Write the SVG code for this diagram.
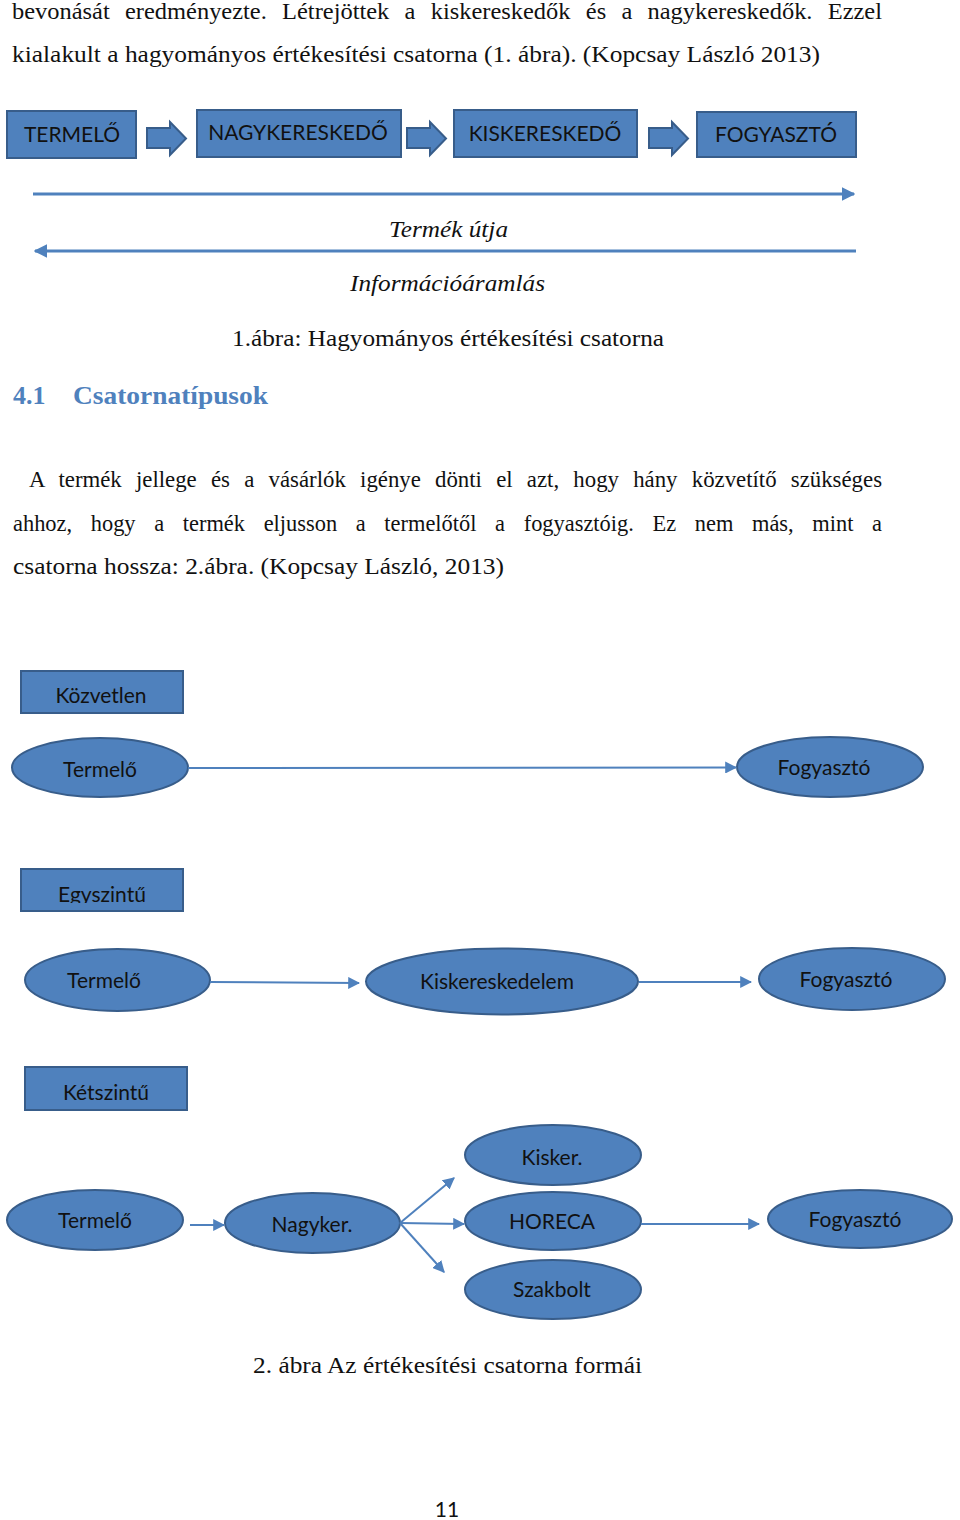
<svg xmlns="http://www.w3.org/2000/svg" width="960" height="1520" viewBox="0 0 960 1520">
<style>
.body{font-family:"Liberation Serif","Times New Roman",serif;font-size:24px;fill:#111}
.just{word-spacing:9px}
.it{font-style:italic}
.h{font-family:"Liberation Serif",serif;font-size:26px;font-weight:bold;fill:#4f81bd}
.box{fill:#4f81bd;stroke:#385d8a;stroke-width:2}
.lbl{font-family:Lato,"Open Sans",sans-serif;font-size:21px;fill:#111;text-anchor:middle}
.ln{stroke:#4f81bd;stroke-width:2;fill:none}
.ln3{stroke:#4f81bd;stroke-width:3;fill:none}
.pg{font-family:Lato,sans-serif;font-size:21px;fill:#111;text-anchor:middle}
</style>
<defs>
<marker id="ah" viewBox="0 0 10 10" refX="9" refY="5" markerWidth="6" markerHeight="6" orient="auto" markerUnits="strokeWidth">
<path d="M0,0 L10,5 L0,10 Z" fill="#4f81bd"/>
</marker>
<marker id="ah2" viewBox="0 0 10 10" refX="9" refY="5" markerWidth="4.5" markerHeight="4.5" orient="auto" markerUnits="strokeWidth">
<path d="M0,0 L10,5 L0,10 Z" fill="#4f81bd"/>
</marker>
<path id="blk" d="M0,128 H23 V122 L39,138.5 L23,155 V148 H0 Z"/>
<clipPath id="clipEgy"><rect x="21" y="869" width="162" height="34"/></clipPath>
</defs>

<!-- body text -->
<text class="body just" x="12" y="19" textLength="870" lengthAdjust="spacingAndGlyphs">bevonását eredményezte. Létrejöttek a kiskereskedők és a nagykereskedők. Ezzel</text>
<text class="body" x="12" y="62" textLength="808" lengthAdjust="spacingAndGlyphs">kialakult a hagyományos értékesítési csatorna (1. ábra). (Kopcsay László 2013)</text>

<!-- Figure 1 -->
<g id="n-termelo1"><rect class="box" x="7" y="111" width="129" height="47"/><text class="lbl" x="72" y="142">TERMELŐ</text></g>
<g id="n-nagyker1"><rect class="box" x="197" y="110" width="204" height="47"/><text class="lbl" x="298" y="140">NAGYKERESKEDŐ</text></g>
<g id="n-kisker1"><rect class="box" x="454" y="110" width="183" height="47"/><text class="lbl" x="545" y="141">KISKERESKEDŐ</text></g>
<g id="n-fogy1"><rect class="box" x="697" y="112" width="159" height="45"/><text class="lbl" x="776" y="142">FOGYASZTÓ</text></g>

<g id="connectors1">
<use href="#blk" class="box" x="147"/>
<use href="#blk" class="box" x="407"/>
<use href="#blk" class="box" x="649"/>
<line class="ln3" x1="33" y1="194" x2="854" y2="194" marker-end="url(#ah2)"/>
<line class="ln3" x1="856" y1="251" x2="35" y2="251" marker-end="url(#ah2)"/>
</g>
<text class="body it" x="389" y="237" textLength="119" lengthAdjust="spacingAndGlyphs">Termék útja</text>
<text class="body it" x="350" y="291" textLength="195" lengthAdjust="spacingAndGlyphs">Információáramlás</text>
<text class="body" x="232" y="346" textLength="432" lengthAdjust="spacingAndGlyphs">1.ábra: Hagyományos értékesítési csatorna</text>

<text class="h" x="13" y="404">4.1</text>
<text class="h" x="73" y="404" textLength="195" lengthAdjust="spacingAndGlyphs">Csatornatípusok</text>

<text class="body just" x="29" y="487" textLength="853" lengthAdjust="spacingAndGlyphs">A termék jellege és a vásárlók igénye dönti el azt, hogy hány közvetítő szükséges</text>
<text class="body just" x="13" y="531" textLength="869" lengthAdjust="spacingAndGlyphs" style="word-spacing:14px">ahhoz, hogy a termék eljusson a termelőtől a fogyasztóig. Ez nem más, mint a</text>
<text class="body" x="13" y="574" textLength="491" lengthAdjust="spacingAndGlyphs">csatorna hossza: 2.ábra. (Kopcsay László, 2013)</text>

<!-- Figure 2 -->
<g id="n-kozvetlen"><rect class="box" x="21" y="671" width="162" height="42"/><text class="lbl" x="101" y="703">Közvetlen</text></g>
<g id="n-termelo2"><ellipse class="box" cx="100" cy="767.5" rx="88" ry="29.5"/><text class="lbl" x="100" y="777">Termelő</text></g>
<g id="n-fogy2"><ellipse class="box" cx="830" cy="767" rx="93" ry="30"/><text class="lbl" x="824" y="775">Fogyasztó</text></g>

<g id="n-egyszintu"><rect class="box" x="21" y="869" width="162" height="42"/><text class="lbl" x="102" y="902" clip-path="url(#clipEgy)">Egyszintű</text></g>
<g id="n-termelo3"><ellipse class="box" cx="117.5" cy="980" rx="92.5" ry="31"/><text class="lbl" x="104" y="988">Termelő</text></g>
<g id="n-kiskeres"><ellipse class="box" cx="502" cy="981.5" rx="136" ry="33"/><text class="lbl" x="497" y="989">Kiskereskedelem</text></g>
<g id="n-fogy3"><ellipse class="box" cx="852" cy="979" rx="93" ry="31"/><text class="lbl" x="846" y="987">Fogyasztó</text></g>

<g id="n-ketszintu"><rect class="box" x="25" y="1067" width="162" height="43"/><text class="lbl" x="106" y="1100">Kétszintű</text></g>
<g id="n-termelo4"><ellipse class="box" cx="95" cy="1220" rx="88" ry="30"/><text class="lbl" x="95" y="1228">Termelő</text></g>
<g id="n-nagyker2"><ellipse class="box" cx="312.5" cy="1223" rx="87.5" ry="30"/><text class="lbl" x="312" y="1232">Nagyker.</text></g>
<g id="n-kisker2"><ellipse class="box" cx="553" cy="1155" rx="88" ry="30"/><text class="lbl" x="552" y="1165">Kisker.</text></g>
<g id="n-horeca"><ellipse class="box" cx="553" cy="1221" rx="88" ry="29"/><text class="lbl" x="552" y="1229">HORECA</text></g>
<g id="n-szakbolt"><ellipse class="box" cx="553" cy="1289.5" rx="88" ry="29.5"/><text class="lbl" x="552" y="1297">Szakbolt</text></g>
<g id="n-fogy4"><ellipse class="box" cx="860" cy="1219" rx="92" ry="29"/><text class="lbl" x="855" y="1227">Fogyasztó</text></g>

<g id="connectors2">
<line class="ln" x1="188" y1="768" x2="736" y2="767.5" marker-end="url(#ah)"/>
<line class="ln" x1="210" y1="982" x2="359" y2="983" marker-end="url(#ah)"/>
<line class="ln" x1="639" y1="982" x2="751" y2="982" marker-end="url(#ah)"/>
<line class="ln" x1="190" y1="1225" x2="224" y2="1225" marker-end="url(#ah)"/>
<line class="ln" x1="400" y1="1223" x2="454" y2="1178" marker-end="url(#ah)"/>
<line class="ln" x1="400" y1="1223" x2="464" y2="1224" marker-end="url(#ah)"/>
<line class="ln" x1="400" y1="1223" x2="444" y2="1272" marker-end="url(#ah)"/>
<line class="ln" x1="641" y1="1224" x2="759" y2="1224" marker-end="url(#ah)"/>
</g>

<text class="body" x="253" y="1373" textLength="389" lengthAdjust="spacingAndGlyphs">2. ábra Az értékesítési csatorna formái</text>
<text class="pg" x="447" y="1517">11</text>
</svg>
